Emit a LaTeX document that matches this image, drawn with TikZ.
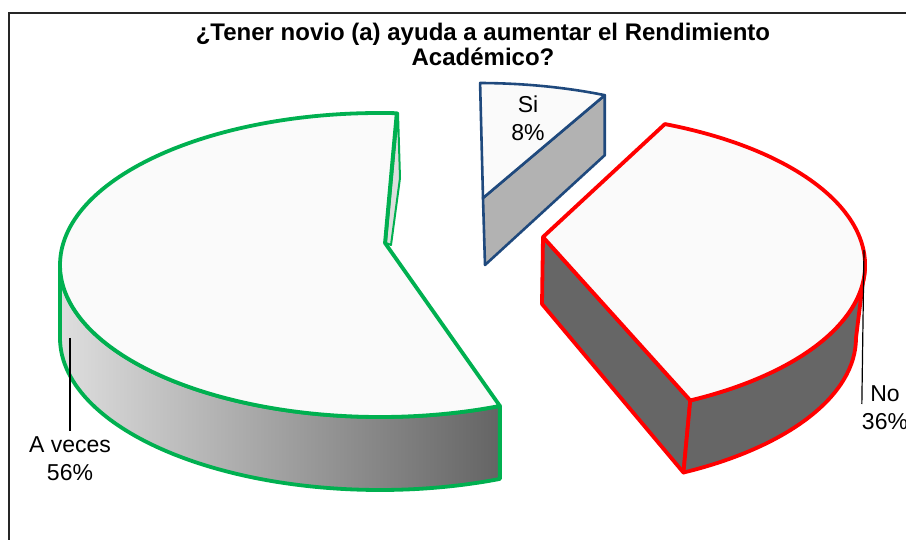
\documentclass[tikz,border=0pt]{standalone}
\usepackage{fontspec}
\setmainfont{Liberation Sans}
\usetikzlibrary{calc}
\definecolor{pieGreen}{RGB}{0,176,80}
\definecolor{pieRed}{RGB}{255,0,0}
\definecolor{pieBlue}{RGB}{31,73,125}
\definecolor{topFace}{RGB}{250,250,250}
\definecolor{sideLight}{RGB}{222,222,222}
\definecolor{sideDark}{RGB}{100,100,100}
\definecolor{siSide}{RGB}{178,178,178}
\definecolor{noSide}{RGB}{102,102,102}
\begin{document}
\begin{tikzpicture}[x=1pt,y=-1pt,
		greenline/.style={draw=pieGreen,line width=3.8pt,line join=round},
		redline/.style={draw=pieRed,line width=3.8pt,line join=round},
		blueline/.style={draw=pieBlue,line width=2.6pt,line join=round},
		lbl/.style={align=center,inner sep=0pt,font=\fontsize{23}{28}\selectfont},
		leader/.style={draw=black,line width=1.2pt}]
	\useasboundingbox (0,0) rectangle (906,540);
	\draw[black!85,line width=1.6pt] (9,560) -- (9,13) -- (920,13);
	\node[align=center,font=\bfseries\fontsize{24}{25}\selectfont] (ttl) at (483,44) {¿Tener novio (a) ayuda a aumentar el Rendimiento\\Académico?};
	% A veces
	\coordinate (gC) at (385,243);
	\coordinate (gE) at (380,265);
	\coordinate (gB) at (380,338);
	\shade[left color=sideLight,right color=sideDark] ($(gE)+(-180:320 and 152)$) arc[start angle=-180,end angle=-292,x radius=320,y radius=152] -- ($(gB)+(-292:320 and 152)$) arc[start angle=-292,end angle=-180,x radius=320,y radius=152] -- cycle;
	\draw[greenline] ($(gE)+(-180:320 and 152)$) arc[start angle=-180,end angle=-292,x radius=320,y radius=152] -- ($(gB)+(-292:320 and 152)$) arc[start angle=-292,end angle=-180,x radius=320,y radius=152] -- cycle;
	\filldraw[greenline,line width=2pt,fill=sideLight] (398,113) -- (400,178) -- (391,245) -- (386,243) -- cycle;
	\filldraw[greenline,fill=topFace] (gC) -- ($(gE)+(-87:320 and 152)$) arc[start angle=-87,end angle=-292,x radius=320,y radius=152] -- cycle;
	% No
	\coordinate (nC) at (543,237);
	\coordinate (nE) at (545,265);
	\coordinate (nB) at (540,338);
	\filldraw[redline,fill=noSide] (nC) -- ($(nE)+(63:320 and 152)$) -- ($(nB)+(63:316 and 151)$) -- (542,304) -- cycle;
	\filldraw[redline,fill=noSide] ($(nE)+(63:320 and 152)$) arc[start angle=63,end angle=0,x radius=320,y radius=152] -- ($(nB)+(0:316 and 151)$) arc[start angle=0,end angle=63,x radius=316,y radius=151] -- cycle;
	\filldraw[redline,fill=topFace] (nC) -- ($(nE)+(-68:320 and 152)$) arc[start angle=-68,end angle=63,x radius=320,y radius=152] -- cycle;
	% Si
	\coordinate (sC) at (483,198);
	\coordinate (sE) at (478,213);
	\filldraw[blueline,fill=siSide] (sC) -- ($(sE)+(-65:300 and 130)$) -- ++(0,60) -- (485,265) -- cycle;
	\filldraw[blueline,fill=topFace] (sC) -- ($(sE)+(-89.6:300 and 130)$) arc[start angle=-89.6,end angle=-65,x radius=300,y radius=130] -- cycle;
	% labels
	\node[lbl] (siLbl) at (528,118) {Si\\8\%};
	\node[lbl] (noLbl) at (885,408) {No\\36\%};
	\node[lbl] (aveLbl) at (70,459) {A veces\\56\%};
	\coordinate (noTip) at (864,250);
	\coordinate (aveTip) at (70,338);
	\draw[leader,shorten >=4pt] (noTip) -- (noLbl.west);
	\draw[leader,shorten >=6pt] (aveTip) -- (aveLbl.north);
\end{tikzpicture}
\end{document}
